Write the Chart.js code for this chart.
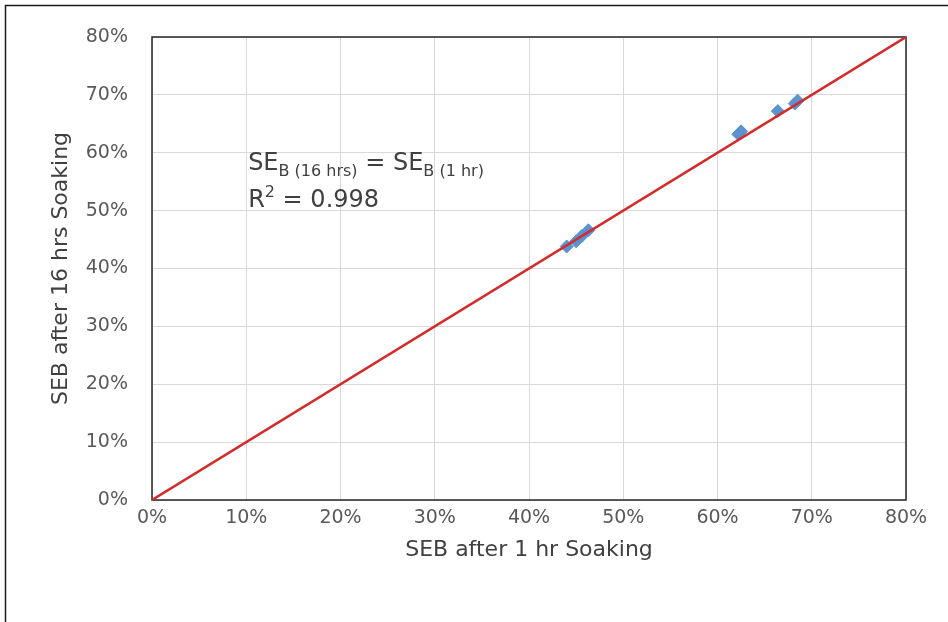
<!DOCTYPE html>
<html>
<head>
<meta charset="utf-8">
<script src="https://cdn.jsdelivr.net/npm/chart.js@4.4.0/dist/chart.umd.min.js"></script>
<style>
  html, body { margin: 0; padding: 0; background: #fff; }
  #chart { display: block; }
</style>
</head>
<body>
<canvas id="chart" width="948" height="622"></canvas>
<script>
// Measured values (percent)
const soak1hr = [44.0, 45.0, 45.6, 46.3, 62.2, 62.5, 66.4, 68.2, 68.5];
const soak16hr = [43.8, 44.7, 45.6, 46.6, 63.2, 63.7, 67.2, 68.5, 69.0];

// 1:1 line ends
const lineX = [0, 80];
const lineY = [0, 80];

const AXIS_MIN = 0;
const AXIS_MAX = 80;
const AXIS_STEP = 10;

const FONT = "'DejaVu Sans', sans-serif";
const TICK_COLOR = "#595959";
const TEXT_COLOR = "#404040";
const GRID_COLOR = "#d9d9d9";
const POINT_COLOR = "#5b92d0";
const LINE_COLOR = "#d42a2a";

// Outer frame and plot area border, like the Excel chart
const framePlugin = {
  id: "frame",
  beforeDatasetsDraw(chart) {
    const { ctx, chartArea } = chart;
    ctx.save();
    ctx.strokeStyle = "#262626";
    ctx.lineWidth = 1.5;
    ctx.strokeRect(chartArea.left, chartArea.top, chartArea.right - chartArea.left, chartArea.bottom - chartArea.top);
    ctx.strokeStyle = "#1a1a1a";
    ctx.strokeRect(5.5, 5.5, chart.width + 10, chart.height + 10);
    ctx.restore();
  },
};

// Equation / R² text box
const equationPlugin = {
  id: "equation",
  afterDatasetsDraw(chart) {
    const { ctx, scales } = chart;
    const x0 = scales.x.getPixelForValue(10.2);
    const y1 = scales.y.getPixelForValue(57.0);
    const y2 = scales.y.getPixelForValue(50.6);
    const big = "24px " + FONT;
    const small = "16px " + FONT;
    ctx.save();
    ctx.fillStyle = TEXT_COLOR;
    ctx.textBaseline = "alphabetic";
    ctx.textAlign = "left";
    let x = x0;
    const parts = [
      ["SE", big, 0],
      ["B (16 hrs)", small, 6],
      [" = SE", big, 0],
      ["B (1 hr)", small, 6],
    ];
    parts.forEach(([txt, font, dy]) => {
      ctx.font = font;
      ctx.fillText(txt, x, y1 + dy);
      x += ctx.measureText(txt).width;
    });
    x = x0;
    ctx.font = big;
    ctx.fillText("R", x, y2);
    x += ctx.measureText("R").width;
    ctx.font = small;
    ctx.fillText("2", x, y2 - 10);
    x += ctx.measureText("2").width;
    ctx.font = big;
    ctx.fillText(" = 0.998", x, y2);
    ctx.restore();
  },
};

const pointData = soak1hr.map((v, i) => ({ x: v, y: soak16hr[i] }));
const lineData = lineX.map((v, i) => ({ x: v, y: lineY[i] }));

const percentTick = (value) => value + "%";

new Chart(document.getElementById("chart"), {
  type: "scatter",
  data: {
    datasets: [
      {
        label: "SEB",
        data: pointData,
        pointStyle: "rectRot",
        pointRadius: 6.5,
        backgroundColor: POINT_COLOR,
        borderColor: POINT_COLOR,
        borderWidth: 1,
        order: 2,
      },
      {
        label: "1:1",
        type: "line",
        data: lineData,
        borderColor: LINE_COLOR,
        borderWidth: 2.5,
        pointRadius: 0,
        fill: false,
        order: 1,
      },
    ],
  },
  options: {
    responsive: false,
    animation: false,
    layout: { padding: { top: 37, right: 42, bottom: 0, left: 0 } },
    plugins: {
      legend: { display: false },
      tooltip: { enabled: false },
    },
    scales: {
      x: {
        type: "linear",
        min: AXIS_MIN,
        max: AXIS_MAX,
        afterFit: (scale) => { scale.height = 122; },
        grid: { color: GRID_COLOR, drawTicks: false },
        border: { display: false },
        ticks: {
          stepSize: AXIS_STEP,
          padding: 7,
          color: TICK_COLOR,
          font: { family: FONT, size: 19 },
          callback: percentTick,
        },
        title: {
          display: true,
          text: "SEB after 1 hr Soaking",
          color: TEXT_COLOR,
          font: { family: FONT, size: 22 },
          padding: { top: 0, bottom: 59 },
        },
      },
      y: {
        type: "linear",
        min: AXIS_MIN,
        max: AXIS_MAX,
        afterFit: (scale) => { scale.width = 152; },
        grid: { color: GRID_COLOR, drawTicks: false },
        border: { display: false },
        ticks: {
          stepSize: AXIS_STEP,
          padding: 24,
          color: TICK_COLOR,
          font: { family: FONT, size: 19 },
          callback: percentTick,
        },
        title: {
          display: true,
          text: "SEB after 16 hrs Soaking",
          color: TEXT_COLOR,
          font: { family: FONT, size: 22 },
          padding: { top: 48, bottom: 0 },
        },
      },
    },
  },
  plugins: [framePlugin, equationPlugin],
});
</script>
</body>
</html>
